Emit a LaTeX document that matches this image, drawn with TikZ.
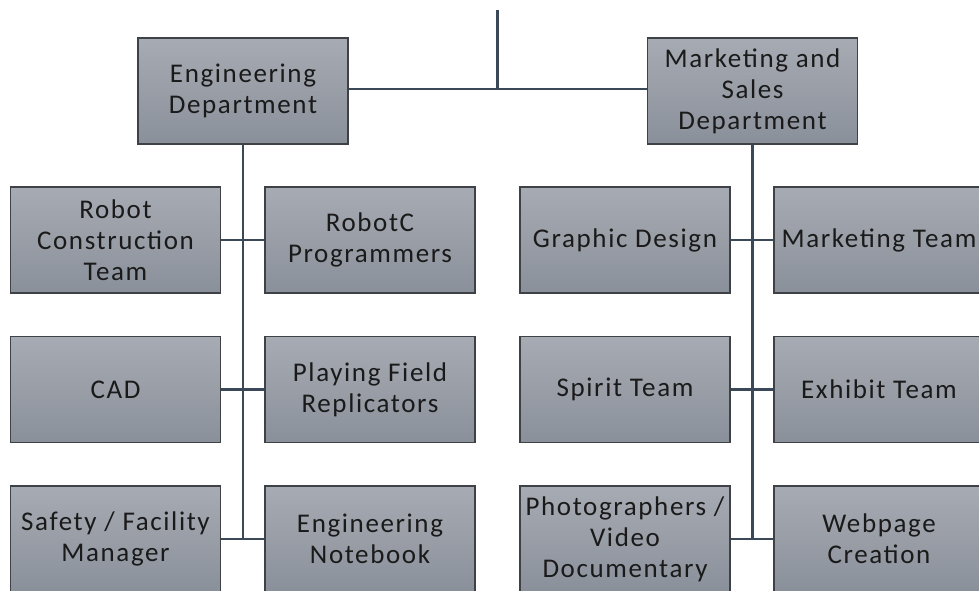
\documentclass[tikz,border=0pt]{standalone}
\usepackage{fontspec}
\setmainfont{Carlito}[LetterSpace=6]
\begin{document}
\begin{tikzpicture}[x=1pt,y=-1pt,
  box/.style={draw=boxline, line width=1.6pt, top color=boxtop, bottom color=boxbot,
    minimum width=210pt, minimum height=106pt, inner sep=0pt, align=center,
    text=txt, font=\fontsize{27}{31}\selectfont},
  conn/.style={draw=lnk, line width=2.4pt}]
\definecolor{boxline}{HTML}{3E4247}
\definecolor{boxtop}{HTML}{A7ABB3}
\definecolor{boxbot}{HTML}{8A909A}
\definecolor{txt}{HTML}{1A1A1A}
\definecolor{lnk}{HTML}{3B4858}
\useasboundingbox (0,0) rectangle (979,590);
\clip (0,0) rectangle (979,590);
\fill[white] (0,0) rectangle (979,590);
\coordinate (top) at (497.5,10);
\coordinate (mid) at (497.5,89);
\node[box] (eng) at (243,91) {Engineering\\Department};
\node[box] (mkt) at (752.5,91) {Marketing and\\Sales\\Department};
\node[box] (rct) at (115.5,240) {Robot\\Construction\\Team};
\node[box] (rcp) at (370,240) {RobotC\\Programmers};
\node[box] (cad) at (115.5,389.5) {CAD};
\node[box] (pfr) at (370,389.5) {Playing Field\\Replicators};
\node[box] (sfm) at (115.5,539) {Safety / Facility\\Manager};
\node[box] (enb) at (370,539) {Engineering\\Notebook};
\node[box] (gd) at (625,240) {Graphic Design};
\node[box] (mt) at (879,240) {Marketing Team};
\node[box] (st) at (625,389.5) {Spirit Team};
\node[box] (et) at (879,389.5) {Exhibit Team};
\node[box] (pvd) at (625,539) {Photographers /\\Video\\Documentary};
\node[box] (wc) at (879,539) {Webpage\\Creation};
\draw[conn] (top) -- (mid);
\draw[conn] (eng.east |- mid) -- (mkt.west |- mid);
\draw[conn] (eng.south) -- (eng.south |- sfm.east);
\draw[conn] (mkt.south) -- (mkt.south |- pvd.east);
\draw[conn] (rct.east) -- (rcp.west);
\draw[conn] (cad.east) -- (pfr.west);
\draw[conn] (sfm.east) -- (enb.west);
\draw[conn] (gd.east) -- (mt.west);
\draw[conn] (st.east) -- (et.west);
\draw[conn] (pvd.east) -- (wc.west);
\end{tikzpicture}
\end{document}
